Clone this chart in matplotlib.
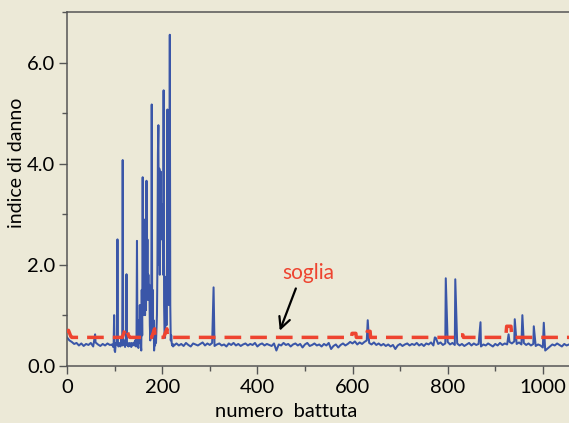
import matplotlib
matplotlib.use('Agg')
import matplotlib.pyplot as plt
from matplotlib.ticker import MultipleLocator, FormatStrFormatter
import numpy as np

# baseline of the damage index, read every 5 strokes
base_a_x = np.arange(0, 95, 5)
base_a_y = [0.56, 0.50, 0.47, 0.43, 0.45, 0.40, 0.44, 0.39, 0.43, 0.41,
            0.45, 0.38, 0.46, 0.42, 0.39, 0.43, 0.40, 0.44, 0.41]

base_b_x = np.arange(230, 1060, 5)
base_b_y = [0.44, 0.40, 0.43, 0.39, 0.45, 0.41, 0.38, 0.44, 0.42, 0.40,
            0.43, 0.46, 0.40, 0.44, 0.41, 0.45, 0.39, 0.42, 0.44, 0.40,
            0.42, 0.38, 0.44, 0.41, 0.45, 0.40, 0.43, 0.39, 0.42, 0.44,
            0.40, 0.43, 0.41, 0.45, 0.38, 0.42, 0.44, 0.40, 0.43, 0.41,
            0.39, 0.44, 0.30, 0.42, 0.40, 0.45, 0.41, 0.43, 0.38, 0.42,
            0.44, 0.40, 0.43, 0.36, 0.42, 0.45, 0.39, 0.41, 0.44, 0.40,
            0.42, 0.38, 0.43, 0.40, 0.45, 0.33, 0.39, 0.42, 0.36, 0.41,
            0.44, 0.40, 0.43, 0.47, 0.44, 0.48, 0.42, 0.46, 0.43, 0.47,
            0.50, 0.45, 0.42, 0.46, 0.41, 0.44, 0.40, 0.43, 0.39, 0.42,
            0.38, 0.41, 0.33, 0.40, 0.43, 0.39, 0.42, 0.44, 0.40, 0.43,
            0.41, 0.45, 0.40, 0.43, 0.39, 0.44, 0.42, 0.46, 0.40, 0.55,
            0.43, 0.46, 0.41, 0.44, 0.47, 0.42, 0.45, 0.41, 0.44, 0.40,
            0.43, 0.39, 0.42, 0.45, 0.40, 0.44, 0.41, 0.43, 0.38, 0.42,
            0.40, 0.44, 0.41, 0.38, 0.43, 0.40, 0.45, 0.41, 0.44, 0.42,
            0.47, 0.44, 0.48, 0.43, 0.46, 0.42, 0.45, 0.41, 0.44, 0.40,
            0.43, 0.39, 0.42, 0.40, 0.36, 0.30, 0.34, 0.38, 0.42, 0.40,
            0.44, 0.41, 0.38, 0.43, 0.40, 0.42]

# the damaged stretch, stroke by stroke
cluster_x = np.arange(95, 226)
cluster_y = [0.42, 0.40, 0.37, 0.45, 1.00, 0.30, 0.27, 0.40, 0.45, 0.42,
             0.48, 2.50, 0.45, 0.38, 0.42, 0.40, 0.45, 0.38, 0.42, 0.52,
             0.47, 0.40, 4.07, 0.45, 0.42, 0.50, 0.40, 0.37, 0.45, 0.55,
             1.81, 0.42, 0.40, 0.45, 0.38, 0.42, 0.40, 0.45, 0.42, 0.39,
             0.37, 0.45, 0.42, 0.40, 0.44, 0.42, 0.46, 0.40, 0.50, 0.42,
             0.38, 0.55, 2.47, 0.45, 0.40, 0.35, 0.90, 0.45, 1.20, 0.50,
             0.42, 0.30, 1.50, 0.60, 3.73, 1.00, 2.90, 1.20, 2.40, 1.00,
             2.00, 1.10, 3.66, 1.40, 2.50, 1.30, 1.80, 1.30, 1.60, 0.80,
             0.50, 1.20, 0.60, 5.17, 0.80, 1.50, 0.55, 0.90, 0.30, 0.50,
             0.40, 0.60, 0.45, 0.70, 1.00, 2.00, 4.20, 4.76, 2.00, 3.90,
             1.80, 3.50, 3.84, 2.50, 3.20, 2.68, 3.00, 1.80, 5.45, 1.20,
             0.60, 0.55, 1.20, 1.76, 0.80, 2.00, 5.07, 1.37, 4.90, 1.20,
             2.00, 6.55, 1.20, 0.50, 0.60, 0.45, 0.40, 0.42, 0.38, 0.42,
             0.40]

# isolated peaks outside the damaged stretch
spike_x = [59, 308, 632, 773, 796, 816, 869, 928, 941, 957, 981, 1002]
spike_y = [0.62, 1.55, 0.90, 0.56, 1.73, 1.71, 0.86, 0.62, 0.92, 1.00, 0.78, 0.85]

# threshold ("soglia")
soglia_x = [0, 3, 8, 10, 116, 124, 130, 132, 178, 184, 185, 203, 210, 211,
            598, 599, 607, 608, 630, 631, 637, 638, 822, 823, 832, 833,
            922, 924, 933, 935, 1060]
soglia_y = [0.66, 0.70, 0.58, 0.56, 0.56, 0.76, 0.58, 0.56, 0.56, 0.73, 0.56, 0.56, 0.73, 0.56,
            0.56, 0.64, 0.64, 0.56, 0.56, 0.68, 0.68, 0.56, 0.56, 0.61, 0.61, 0.56,
            0.56, 0.78, 0.78, 0.56, 0.56]

BG = '#ECE9D7'
BLUE = '#3A56A8'
RED = '#EE4430'


def draw():
    plt.rcParams['font.family'] = ['Lato', 'DejaVu Sans']
    fig = plt.figure(figsize=(5.69, 4.23), dpi=100, facecolor=BG)
    ax = fig.add_axes([0.1178, 0.1355, 0.8822, 0.8361], facecolor=BG)

    x = np.concatenate([base_a_x, cluster_x, base_b_x, spike_x])
    y = np.concatenate([base_a_y, cluster_y, base_b_y, spike_y])
    order = np.argsort(x, kind='stable')
    ax.plot(x[order], y[order], color=BLUE, lw=1.45, zorder=2)

    ax.plot(soglia_x, soglia_y, color=RED, lw=2.5, dashes=(4.8, 2.6),
            solid_capstyle='butt', dash_capstyle='butt', zorder=3)

    ax.text(508, 1.83, 'soglia', color=RED, fontsize=15, ha='center', va='center')
    ax.annotate('', xy=(445, 0.64), xytext=(483, 1.58),
                arrowprops=dict(arrowstyle='->', color='black', lw=1.6,
                                mutation_scale=20))

    ax.set_xlim(0, 1055)
    ax.set_ylim(0, 7.0)
    ax.xaxis.set_major_locator(MultipleLocator(200))
    ax.xaxis.set_minor_locator(MultipleLocator(100))
    ax.yaxis.set_major_locator(MultipleLocator(2))
    ax.yaxis.set_minor_locator(MultipleLocator(1))
    ax.yaxis.set_major_formatter(FormatStrFormatter('%.1f'))

    for side in ['left', 'bottom', 'top']:
        ax.spines[side].set_color('#555555')
        ax.spines[side].set_linewidth(1.1)
    ax.spines['right'].set_visible(False)
    ax.tick_params(which='major', direction='out', length=5.5, width=1.0,
                   color='#555555', labelsize=14.5, pad=3)
    ax.tick_params(which='minor', direction='out', length=3.8, width=1.0,
                   color='#555555')
    ax.tick_params(axis='x', which='major', pad=4)

    ax.set_xlabel('numero  battuta', fontsize=14.5)
    ax.set_ylabel('indice di danno', fontsize=14)
    ax.xaxis.set_label_coords(0.436, -0.106)
    ax.yaxis.set_label_coords(-0.084, 0.573)

    fig.savefig('out.png', dpi=100, facecolor=BG)
    plt.close(fig)


if __name__ == "__main__":
    draw()
